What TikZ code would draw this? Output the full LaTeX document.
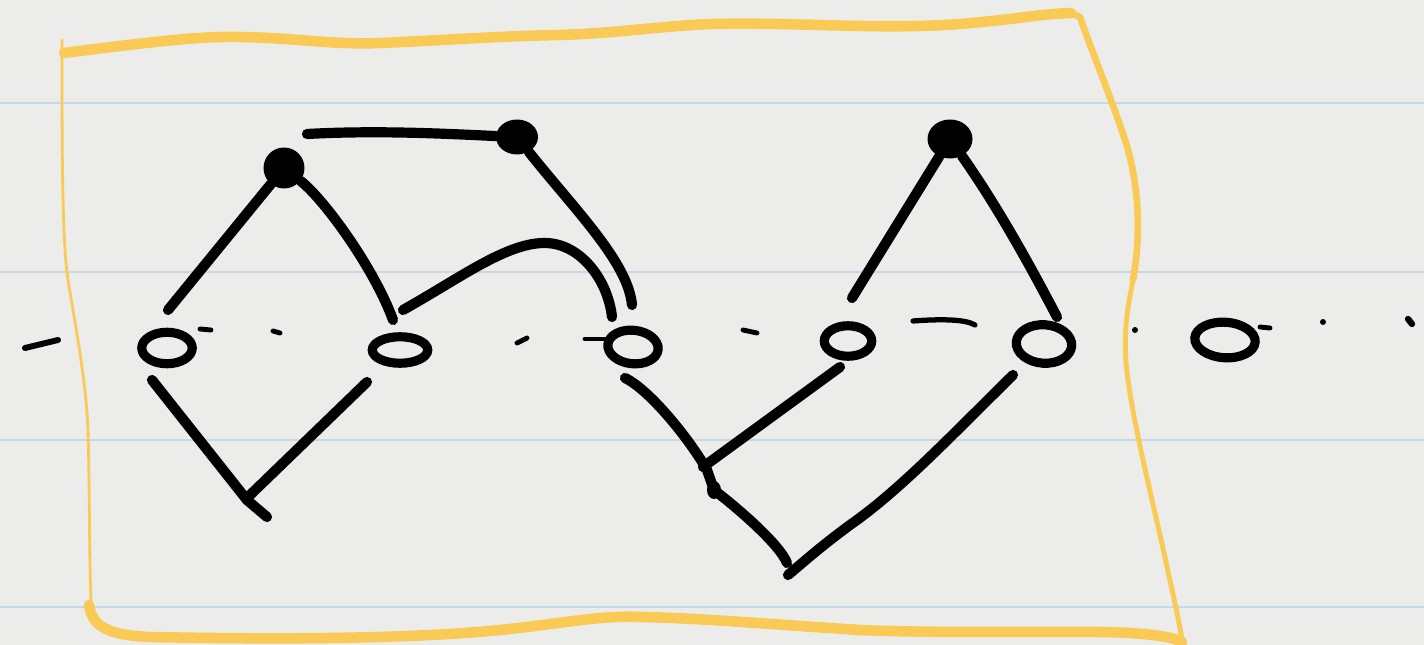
\documentclass[tikz,border=0pt]{standalone}
\usetikzlibrary{shapes.geometric}
\definecolor{paper}{RGB}{236,236,234}
\definecolor{rulecol}{RGB}{196,216,232}
\definecolor{hl}{RGB}{250,202,86}
\begin{document}
\begin{tikzpicture}[x=0.02cm,y=-0.02cm,
  ink/.style={line width=5.8pt,line cap=round,line join=round,black},
  ring/.style={ellipse,draw=black,line width=5.2pt,inner sep=0pt},
  blob/.style={ellipse,fill=black,inner sep=0pt},
  tick/.style={line width=2.8pt,line cap=round,black},
  hlline/.style={hl,line cap=round,line join=round}]

\fill[paper] (0,0) rectangle (1424,645);
\useasboundingbox (0,0) rectangle (1424,645);
\foreach \y in {103,272,440,607} \draw[rulecol,line width=1.5pt] (0,\y) -- (1424,\y);

% yellow frame
\draw[hlline,line width=6pt] (64,53) .. controls (150,42) and (200,36) .. (240,37)
  .. controls (300,38) and (330,45) .. (380,43) .. controls (450,40) and (500,36) .. (560,35)
  .. controls (620,33) and (660,26) .. (712,24) .. controls (800,22) and (880,30) .. (960,24)
  .. controls (1010,20) and (1040,14) .. (1071,13);
\draw[hlline,line width=3.8pt] (1071,13) -- (1080,17) .. controls (1095,60) and (1112,100) .. (1125,140)
  .. controls (1138,180) and (1142,230) .. (1133,280);
\draw[hlline,line width=2.8pt] (1133,280) .. controls (1127,310) and (1122,340) .. (1128,380)
  .. controls (1135,430) and (1150,490) .. (1164,553) .. controls (1172,590) and (1178,615) .. (1182,640);
\draw[hlline,line width=6pt] (89,605) .. controls (92,625) and (105,635) .. (150,637)
  .. controls (300,640) and (420,638) .. (500,630) .. controls (560,624) and (600,615) .. (640,617)
  .. controls (700,618) and (780,625) .. (860,630) .. controls (950,634) and (1080,630) .. (1130,633)
  .. controls (1160,635) and (1175,638) .. (1182,642);
\draw[hlline,line width=1.6pt] (62,40) .. controls (62,150) and (62,240) .. (68,280)
  .. controls (76,330) and (86,380) .. (88,430) .. controls (90,500) and (89,580) .. (92,615);

% nodes
\node[blob,minimum width=0.82cm,minimum height=0.82cm] (A) at (284,168) {};
\node[blob,minimum width=0.84cm,minimum height=0.70cm] (B) at (517,137) {};
\node[blob,minimum width=0.90cm,minimum height=0.78cm] (C) at (950,139) {};
\node[ring,minimum width=1.01cm,minimum height=0.63cm] (c1) at (167,348) {};
\node[ring,minimum width=1.11cm,minimum height=0.53cm] (c2) at (400,350) {};
\node[ring,minimum width=1.01cm,minimum height=0.67cm,rotate=-6] (c3) at (633,347) {};
\node[ring,minimum width=0.95cm,minimum height=0.61cm] (c4) at (848,341) {};
\node[ring,minimum width=1.11cm,minimum height=0.77cm,rotate=-4] (c5) at (1044,344) {};
\node[ring,minimum width=1.21cm,minimum height=0.71cm,rotate=-4] (c6) at (1225,340) {};

% free ends
\coordinate (t0) at (307,134);
\coordinate (a1) at (168,310);
\coordinate (a2) at (393,320);
\coordinate (r0) at (403,310);
\coordinate (r1) at (543,243);
\coordinate (r2) at (612,317);
\coordinate (b1) at (632,305);
\coordinate (k1) at (852,298);
\coordinate (k2) at (1057,317);
\coordinate (v1) at (152,380);
\coordinate (v2) at (247,500);
\coordinate (v3) at (267,517);
\coordinate (v4) at (367,382);
\coordinate (v5) at (248,497);
\coordinate (w1) at (625,378);
\coordinate (w2) at (707,470);
\coordinate (w3) at (714,490);
\coordinate (w4) at (787,563);
\coordinate (w5) at (840,367);
\coordinate (w6) at (703,467);
\coordinate (w7) at (1013,375);
\coordinate (w8) at (788,575);

% connectors
\draw[ink] (t0) .. controls (380,130) and (450,134) .. (B);
\draw[ink] (A) -- (a1);
\draw[ink] (A) .. controls (325,200) and (375,270) .. (a2);
\draw[ink] (r0) .. controls (460,278) and (505,244) .. (r1) .. controls (580,242) and (608,280) .. (r2);
\draw[ink] (B) .. controls (575,210) and (628,262) .. (b1);
\draw[ink] (C) -- (k1);
\draw[ink] (C) .. controls (1000,210) and (1035,275) .. (k2);
\draw[ink] (v1) -- (v2) -- (v3);
\draw[ink] (v4) -- (v5);
\draw[ink] (w1) .. controls (650,390) and (690,440) .. (w2) -- (w3) .. controls (740,510) and (780,545) .. (w4);
\draw[ink] (w5) -- (w6);
\draw[ink] (w7) .. controls (950,437) and (900,490) .. (850,525) .. controls (820,547) and (800,565) .. (w8);
\fill (w3) ellipse (7 and 9);

% dotted baseline marks
\draw[tick,line width=3.4pt] (25,348) -- (58,340);
\draw[tick] (200,329) -- (211,330);
\draw[tick] (273,331) -- (280,333);
\draw[tick] (517,343) -- (527,338);
\draw[tick] (585,339) -- (605,339);
\draw[tick] (743,330) -- (757,333);
\draw[tick,line width=3pt] (913,321) .. controls (940,319) and (965,319) .. (975,325);
\fill (1135,330) circle (3);
\draw[tick] (1260,327) -- (1270,328);
\fill (1323,322) circle (3);
\draw[tick,line width=3.6pt] (1408,319) -- (1412,324);
\end{tikzpicture}
\end{document}
